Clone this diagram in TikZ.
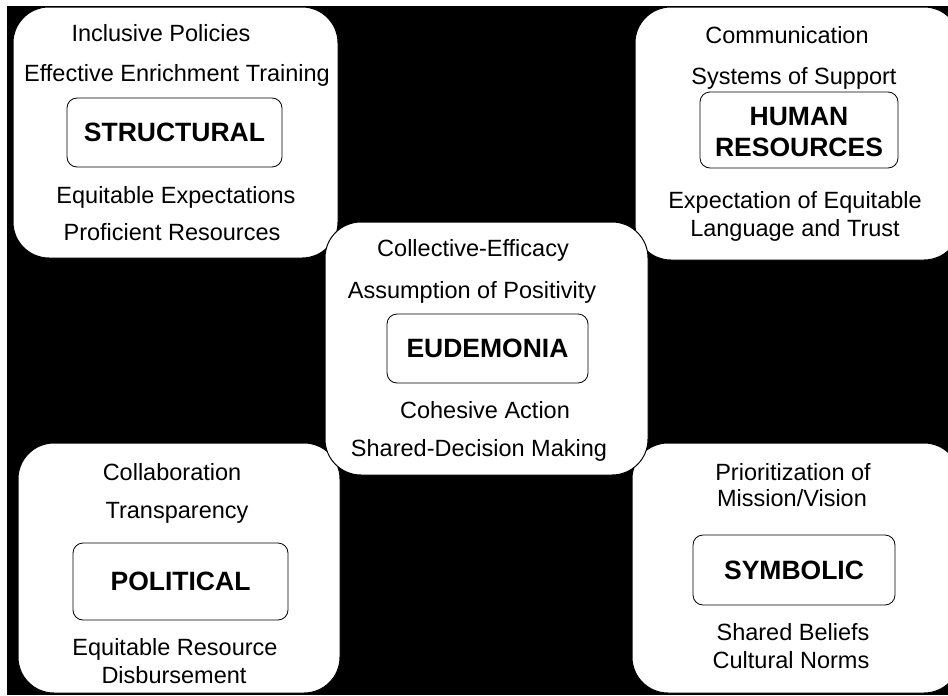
\documentclass[tikz,border=0pt]{standalone}
\usepackage{fontspec}
\setmainfont{Liberation Sans}
\begin{document}
\begin{tikzpicture}[x=1pt,y=-1pt,
  panel/.style={draw=black, line width=1pt, fill=white, rounded corners=36pt, inner sep=0pt},
  item/.style={font=\fontsize{23.5}{26}\selectfont, anchor=base, inner sep=0pt},
  titlebox/.style={draw=black, line width=0.8pt, fill=white, rounded corners=10pt,
    font=\bfseries\fontsize{26.5}{31.5}\selectfont, align=center, inner sep=0pt}
]
% page and black ground
\clip (0,0) rectangle (948,696);
\fill[white] (0,0) rectangle (948,696);
\fill[black] (7,6) rectangle (948,695);

% outer panels
\node[panel, minimum width=325pt, minimum height=251pt] (structural) at (175.5,132.5) {};
\node[panel, minimum width=325pt, minimum height=253pt] (human) at (797.5,133.5) {};
\node[panel, minimum width=322pt, minimum height=250pt] (political) at (179,568) {};
\node[panel, minimum width=328pt, minimum height=250pt] (symbolic) at (796,568) {};
\node[panel, minimum width=323pt, minimum height=253pt] (eudemonia) at (486.5,348.5) {};

% structural frame
\node[item] (s1) at (161,41) {Inclusive Policies};
\node[item] (s2) at (177,81) {Effective Enrichment Training};
\node[titlebox, minimum width=215pt, minimum height=69pt] (stitle) at (174.5,132.5) {STRUCTURAL};
\node[item] (s3) at (176,203) {Equitable Expectations};
\node[item] (s4) at (172,240) {Proficient Resources};

% human resources frame
\node[item] (h1) at (787,43) {Communication};
\node[item] (h2) at (794,84) {Systems of Support};
\node[titlebox, minimum width=198pt, minimum height=76pt] (htitle) at (799,130) {};
\node[font=\bfseries\fontsize{26.5}{31.5}\selectfont, align=center, inner sep=0pt] (hlabel) at (799,132) {HUMAN\\RESOURCES};
\node[item] (h3) at (795,208) {Expectation of Equitable};
\node[item] (h4) at (795,236) {Language and Trust};

% central frame
\node[item] (e1) at (473,256) {Collective-Efficacy};
\node[item] (e2) at (472,298) {Assumption of Positivity};
\node[titlebox, minimum width=201pt, minimum height=69pt] (etitle) at (487.5,348.5) {EUDEMONIA};
\node[item] (e3) at (485,418) {Cohesive Action};
\node[item] (e4) at (479,456) {Shared-Decision Making};

% political frame
\node[item] (p1) at (172,480) {Collaboration};
\node[item] (p2) at (177,518) {Transparency};
\node[titlebox, minimum width=215pt, minimum height=77pt] (ptitle) at (180.5,581.5) {POLITICAL};
\node[item] (p3) at (175,655) {Equitable Resource};
\node[item] (p4) at (174,683) {Disbursement};

% symbolic frame
\node[item] (y1) at (793,480) {Prioritization of};
\node[item] (y2) at (792,506) {Mission/Vision};
\node[titlebox, minimum width=202pt, minimum height=70pt] (ytitle) at (794,570) {SYMBOLIC};
\node[item] (y3) at (793,640) {Shared Beliefs};
\node[item] (y4) at (791,668) {Cultural Norms};
\end{tikzpicture}
\end{document}
